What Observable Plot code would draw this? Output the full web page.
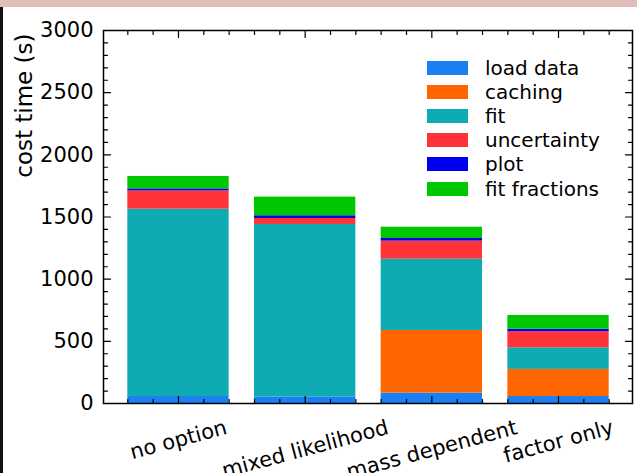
<!DOCTYPE html>
<html>
<head>
<meta charset="utf-8">
<script src="https://cdn.jsdelivr.net/npm/d3@7"></script>
<script src="https://cdn.jsdelivr.net/npm/@observablehq/plot@0.6"></script>
<style>
  html, body { margin: 0; padding: 0; background: #fff; }
  body { width: 637px; height: 473px; position: relative; overflow: hidden; font-family: "DejaVu Sans", sans-serif; }
  #chart { position: absolute; left: 0; top: 0; }
  #leftbar { position: absolute; left: 0; top: 0; width: 3px; height: 473px; background: #111; }
  #topbar { position: absolute; left: 0; top: 0; width: 637px; height: 7px; background: #e2bebb; }
  #legend { position: absolute; left: 427px; top: 56px; }
  .row { display: flex; align-items: center; height: 24.1px; }
  .sw { width: 41px; height: 14px; margin-right: 17px; }
  .lab { font-size: 20px; color: #000; line-height: 20px; }
</style>
</head>
<body>
<div id="chart"></div>
<div id="leftbar"></div>
<div id="topbar"></div>
<div id="legend"></div>
<script>
const categories = ["no option", "mixed likelihood", "mass dependent", "factor only"];
const seriesNames = ["load data", "caching", "fit", "uncertainty", "plot", "fit fractions"];
const seriesColors = ["#1a7ff2", "#ff6600", "#0eabb3", "#ff3338", "#0000f0", "#00c800"];
const loadData     = [56, 51, 83, 56];
const caching      = [0, 0, 504, 218];
const fit          = [1507, 1389, 574, 174];
const uncertainty  = [147, 48, 145, 129];
const plotTime     = [16, 22, 21, 21];
const fitFractions = [100, 150, 91, 110];
const yMajorTicks = [0, 500, 1000, 1500, 2000, 2500, 3000];

const seriesValues = [loadData, caching, fit, uncertainty, plotTime, fitFractions];

// stacked rows
const rows = [];
categories.forEach((c, i) => {
  let acc = 0;
  seriesNames.forEach((s, k) => {
    const v = seriesValues[k][i];
    rows.push({cat: c, i, series: s, y1: acc, y2: acc + v});
    acc += v;
  });
});

const yMinorTicks = d3.range(0, 3001, 100).filter(v => v % 500 !== 0);
const xMajorTicks = categories.map((c, i) => i);
const xMinorTicks = d3.range(-2, 18).map(k => k / 5).filter(v => Math.abs(v - Math.round(v)) > 1e-6);

const tickShape = {draw(context, l) { context.moveTo(0, 0); context.lineTo(0, -l); }};
const tk = (data, opts) => Plot.vector(data, {shape: tickShape, anchor: "start", stroke: "black", strokeWidth: 1.2, ...opts});

// label offsets (matplotlib-style top aligned rotated labels)
const ctx = document.createElement("canvas").getContext("2d");
ctx.font = "21px 'DejaVu Sans'";
const s15 = Math.sin(15 * Math.PI / 180), c15 = Math.cos(15 * Math.PI / 180);
const labelMarks = categories.map((c, i) => {
  const w = ctx.measureText(c).width;
  const h = (w * s15 + 24 * c15);
  return Plot.text([c], {x: () => i, text: d => d, frameAnchor: "bottom", dy: 12 + h / 2,
    rotate: -15, textAnchor: "middle", lineAnchor: "middle", fontSize: 21, fill: "black"});
});

const chart = Plot.plot({
  width: 637,
  height: 473,
  marginLeft: 103,
  marginRight: 5,
  marginTop: 30,
  marginBottom: 70,
  style: {fontFamily: "DejaVu Sans, sans-serif", fontSize: "20px", background: "transparent"},
  x: {domain: [-0.592, 3.584], axis: null},
  y: {domain: [0, 3000], axis: null},
  color: {domain: seriesNames, range: seriesColors},
  marks: [
    Plot.rect(rows, {x1: d => d.i - 0.4, x2: d => d.i + 0.4, y1: "y1", y2: "y2", fill: "series"}),
    Plot.axisY({ticks: yMajorTicks, tickFormat: d3.format("d"), tickSize: 0, tickPadding: 10, fontSize: 21, label: null}),
    tk(yMajorTicks, {y: d => d, frameAnchor: "left", rotate: 90, length: 7}),
    tk(yMinorTicks, {y: d => d, frameAnchor: "left", rotate: 90, length: 4}),
    tk(yMajorTicks, {y: d => d, frameAnchor: "right", rotate: -90, length: 7}),
    tk(yMinorTicks, {y: d => d, frameAnchor: "right", rotate: -90, length: 4}),
    tk(xMajorTicks, {x: d => d, frameAnchor: "bottom", rotate: 0, length: 7}),
    tk(xMinorTicks, {x: d => d, frameAnchor: "bottom", rotate: 0, length: 4}),
    tk(xMajorTicks, {x: d => d, frameAnchor: "top", rotate: 180, length: 7}),
    tk(xMinorTicks, {x: d => d, frameAnchor: "top", rotate: 180, length: 4}),
    Plot.frame({stroke: "black", strokeWidth: 1.5}),
    ...labelMarks,
    Plot.text(["cost time (s)"], {text: d => d, frameAnchor: "top-left", dx: -79, dy: 3, rotate: -90,
      textAnchor: "end", lineAnchor: "middle", fontSize: 23, fill: "black"})
  ]
});
document.getElementById("chart").appendChild(chart);

const legend = document.getElementById("legend");
seriesNames.forEach((s, k) => {
  const row = document.createElement("div");
  row.className = "row";
  const sw = document.createElement("div");
  sw.className = "sw";
  sw.style.background = seriesColors[k];
  const lab = document.createElement("span");
  lab.className = "lab";
  lab.textContent = s;
  row.appendChild(sw);
  row.appendChild(lab);
  legend.appendChild(row);
});
</script>
</body>
</html>
